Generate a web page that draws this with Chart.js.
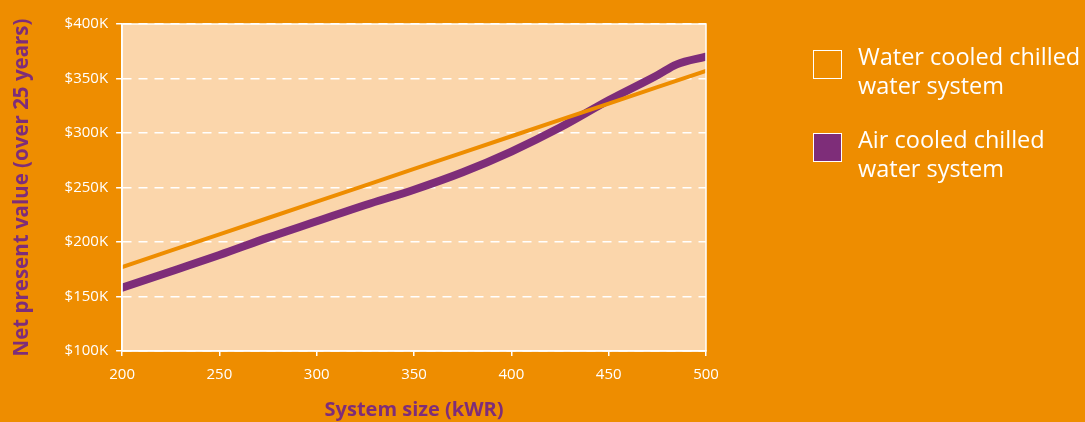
<!DOCTYPE html>
<html>
<head>
<meta charset="utf-8">
<script src="https://cdn.jsdelivr.net/npm/chart.js@4.4.1/dist/chart.umd.min.js"></script>
<style>
  html, body { margin: 0; padding: 0; background: #EE8D00; }
  body { width: 1085px; height: 422px; position: relative; overflow: hidden; font-family: "Open Sans", sans-serif; }
  #wrap { position: absolute; left: 0; top: 0; width: 1085px; height: 422px; }
  #legend { position: absolute; left: 813px; top: 42px; color: #fff; font-size: 23.5px; line-height: 28.5px; white-space: nowrap; }
  .item { display: flex; align-items: flex-start; margin-bottom: 26px; }
  .box { width: 29px; height: 29px; box-sizing: border-box; border: 1.5px solid #fff; margin-top: 8px; margin-right: 16px; flex: none; }
</style>
</head>
<body>
<div id="wrap"><canvas id="c" width="1085" height="422"></canvas></div>
<div id="legend"></div>
<script>
const seriesNames = ["Water cooled chilled water system", "Air cooled chilled water system"];
const legendLines = [["Water cooled chilled", "water system"], ["Air cooled chilled", "water system"]];
const waterX = [200, 225, 250, 275, 300, 325, 350, 375, 400, 425, 450, 475, 500];
const waterY = [177, 192, 207, 222, 237, 252, 267, 282, 297, 312, 327, 342, 357];
const airX = [200, 225, 250, 275, 300, 325, 350, 375, 400, 425, 450, 475, 485, 500];
const airY = [158, 173, 188, 204, 219, 234, 248, 264, 283, 305, 330, 353, 363, 370];
const xTicks = [200, 250, 300, 350, 400, 450, 500];
const yTicks = [100, 150, 200, 250, 300, 350, 400];
const colors = { bg: "#EE8D00", plot: "#FBD6AB", water: "#EE8D00", air: "#7E2D79", white: "#FFFFFF" };

const toPts = (xs, ys) => xs.map((x, i) => ({ x: x, y: ys[i] }));

const plotBg = {
  id: "plotBg",
  beforeDraw(chart) {
    const { ctx, chartArea: a } = chart;
    ctx.save();
    ctx.fillStyle = colors.plot;
    ctx.fillRect(a.left, a.top, a.right - a.left, a.bottom - a.top);
    ctx.restore();
  },
  afterDatasetsDraw(chart) {
    const { ctx, chartArea: a } = chart;
    ctx.save();
    ctx.setLineDash([]);
    ctx.strokeStyle = colors.white;
    ctx.lineWidth = 1.5;
    ctx.strokeRect(a.left, a.top, a.right - a.left, a.bottom - a.top);
    ctx.restore();
  }
};

Chart.register(plotBg);

new Chart(document.getElementById("c"), {
  type: "line",
  data: {
    datasets: [
      { label: seriesNames[0], data: toPts(waterX, waterY), borderColor: colors.water, borderWidth: 4, pointRadius: 0, tension: 0, borderCapStyle: "round", borderJoinStyle: "round" },
      { label: seriesNames[1], data: toPts(airX, airY), borderColor: colors.air, borderWidth: 8, pointRadius: 0, cubicInterpolationMode: "monotone", borderCapStyle: "round", borderJoinStyle: "round" }
    ]
  },
  options: {
    responsive: false,
    animation: false,
    layout: { padding: { left: 10, top: 24, right: 379, bottom: 0 } },
    plugins: { legend: { display: false }, tooltip: { enabled: false } },
    scales: {
      x: {
        type: "linear", min: 200, max: 500,
        afterBuildTicks(s) { s.ticks = xTicks.map(v => ({ value: v })); },
        ticks: { color: colors.white, font: { family: "Open Sans", size: 15 }, padding: 10, maxRotation: 0 },
        grid: { drawOnChartArea: false, drawTicks: true, tickLength: 5, color: colors.white, lineWidth: 1.5 },
        border: { color: colors.white, width: 1.5 },
        title: { display: true, text: "System size (kWR)", color: colors.air, font: { family: "Open Sans", size: 20, weight: "bold" }, padding: { top: 4, bottom: 0 } }
      },
      y: {
        min: 100, max: 400,
        afterBuildTicks(s) { s.ticks = yTicks.map(v => ({ value: v })); },
        ticks: { color: colors.white, font: { family: "Open Sans", size: 15 }, padding: 8, callback: v => "$" + v + "K" },
        grid: { color: colors.white, lineWidth: 1.5, tickBorderDash: [], tickLength: 6, tickColor: colors.white },
        border: { color: colors.white, width: 1.5, dash: [9, 7] },
        title: { display: true, text: "Net present value (over 25 years)", color: colors.air, font: { family: "Open Sans", size: 20.5, weight: "bold" }, padding: { top: 0, bottom: 22 } }
      }
    }
  }
});

const lg = document.getElementById("legend");
[colors.water, colors.air].forEach((c, i) => {
  const it = document.createElement("div");
  it.className = "item";
  const b = document.createElement("div");
  b.className = "box";
  b.style.background = c;
  const t = document.createElement("div");
  t.innerHTML = legendLines[i].join("<br>");
  it.appendChild(b); it.appendChild(t);
  lg.appendChild(it);
});
</script>
</body>
</html>
